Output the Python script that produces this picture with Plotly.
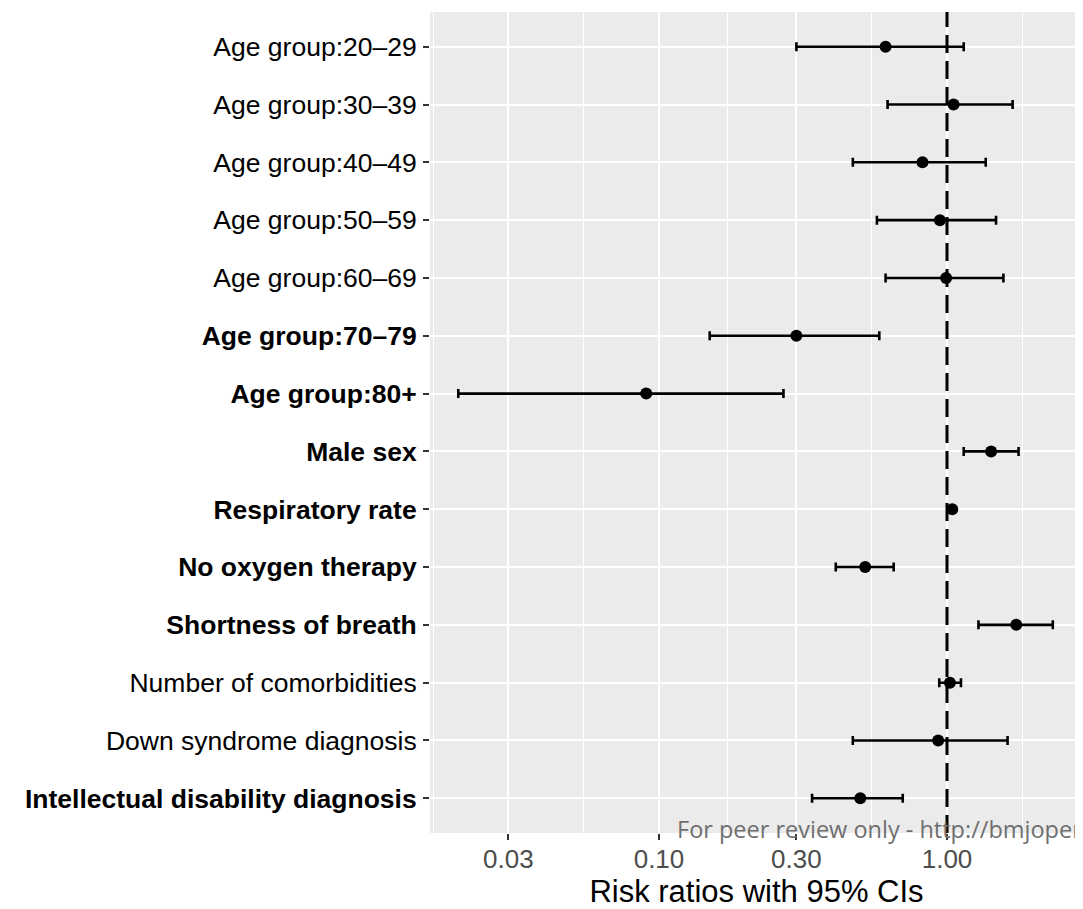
import plotly.graph_objects as go

# ---- data ----
labels = [
    "Age group:20–29", "Age group:30–39", "Age group:40–49", "Age group:50–59",
    "Age group:60–69", "Age group:70–79", "Age group:80+", "Male sex",
    "Respiratory rate", "No oxygen therapy", "Shortness of breath",
    "Number of comorbidities", "Down syndrome diagnosis",
    "Intellectual disability diagnosis",
]
significant = [False, False, False, False, False, True, True, True, True, True,
               True, False, False, True]
rr = [0.612, 1.054, 0.822, 0.945, 0.993, 0.300, 0.0903, 1.423, 1.043, 0.520,
      1.740, 1.024, 0.932, 0.500]
ci_low = [0.300, 0.622, 0.471, 0.571, 0.612, 0.150, 0.0201, 1.143, 1.025, 0.411,
          1.286, 0.940, 0.471, 0.340]
ci_high = [1.143, 1.690, 1.363, 1.480, 1.570, 0.582, 0.2705, 1.772, 1.060, 0.653,
           2.330, 1.118, 1.623, 0.702]

x_ticks = [0.03, 0.10, 0.30, 1.00]
x_ticklabels = ["0.03", "0.10", "0.30", "1.00"]
x_minor = [0.01643, 0.05477, 0.1732, 0.5477, 1.826]
ref_value = 1.0

FONT = "Liberation Sans, Arial, Helvetica, sans-serif"

ticktext = [f"<b>{l}</b>" if s else l for l, s in zip(labels, significant)]

# page body has an 8px margin: figure is 1075x901 placed at (8, 8)
W, H = 1075, 901
ML, MR, MT, MB = 422, 0, 4, 76
plot_h = H - MT - MB

fig = go.Figure()
fig.add_trace(go.Scatter(
    x=rr, y=labels, mode="markers",
    marker=dict(color="black", size=12),
    error_x=dict(
        type="data", symmetric=False,
        array=[h - e for h, e in zip(ci_high, rr)],
        arrayminus=[e - l for e, l in zip(rr, ci_low)],
        color="black", thickness=2.6, width=4.5,
    ),
    showlegend=False,
))

fig.add_shape(type="line", xref="x", yref="paper", x0=ref_value, x1=ref_value,
              y0=0, y1=1, line=dict(color="black", width=3, dash="18px,8px"))

fig.add_annotation(
    text="For peer review only - http://bmjopen.bmj.com/site/about/guidelines.xhtml",
    xref="paper", yref="paper", x=(675 - 430) / (W - ML - MR), y=4 / plot_h,
    xanchor="left", yanchor="middle", showarrow=False,
    font=dict(family="Open Sans, sans-serif", size=23.5, color="#6f6f6f"),
)

fig.update_layout(
    width=W, height=H,
    margin=dict(l=ML, r=MR, t=MT, b=MB),
    paper_bgcolor="white", plot_bgcolor="#EBEBEB",
    font=dict(family=FONT, color="black"),
)

fig.update_xaxes(
    type="log", range=[-1.795, 0.4722],
    tickvals=x_ticks, ticktext=x_ticklabels,
    tickfont=dict(size=26, color="#4D4D4D", family=FONT),
    ticks="outside", ticklen=6, tickwidth=2.2, tickcolor="#333333",
    ticklabelstandoff=-3,
    showgrid=True, gridcolor="white", gridwidth=2.3,
    minor=dict(tickvals=x_minor, showgrid=True, gridcolor="white",
               gridwidth=1.3, ticks=""),
    zeroline=False, showline=False,
    title=dict(text="Risk ratios with 95% CIs", font=dict(size=31, color="black",
               family=FONT), standoff=7),
)

fig.update_yaxes(
    type="category", categoryorder="array", categoryarray=labels,
    range=[13.6, -0.6],
    tickvals=labels, ticktext=ticktext,
    tickfont=dict(size=26.5, color="black", family=FONT),
    ticks="outside", ticklen=6, tickwidth=2.2, tickcolor="#333333",
    ticklabelstandoff=1,
    showgrid=True, gridcolor="white", gridwidth=2.3,
    zeroline=False, showline=False,
)

fig.write_html("out.html")
